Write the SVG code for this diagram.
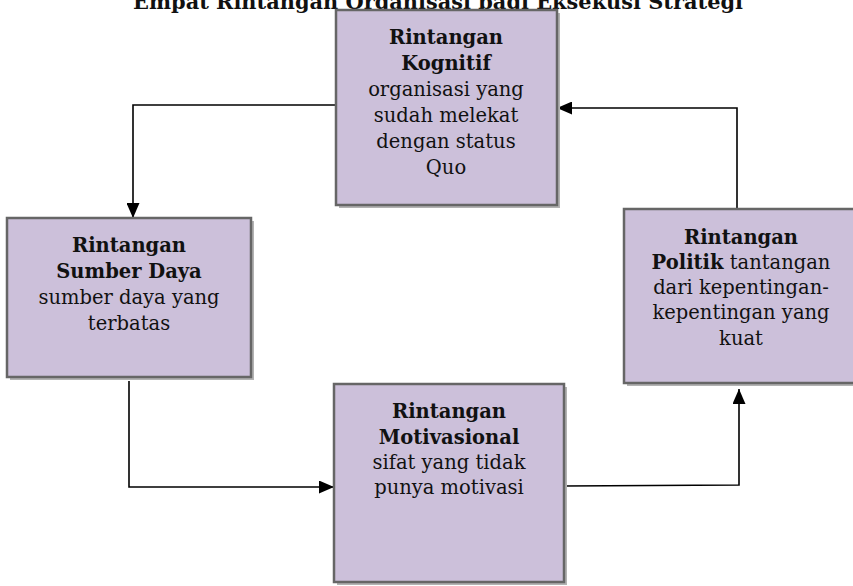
<svg xmlns="http://www.w3.org/2000/svg" width="853" height="586" viewBox="0 0 853 586">
<style>
.shadow{fill:#b3b3b3}
.box{fill:#ccc0da;stroke:#666666;stroke-width:2.5}
.t{font-family:"DejaVu Serif","Liberation Serif",serif;font-size:19.5px;fill:#111;text-anchor:middle}
.b{font-weight:bold}
.title{font-family:"DejaVu Serif","Liberation Serif",serif;font-size:20px;font-weight:bold;fill:#111;text-anchor:middle}
.conn{fill:none;stroke:#000;stroke-width:1.6}
</style>
<defs>
<marker id="arr" viewBox="0 0 15 13" refX="15" refY="6.5" markerWidth="15" markerHeight="13" markerUnits="userSpaceOnUse" orient="auto">
<path d="M0,0 L15,6.5 L0,13 Z" fill="#000"/>
</marker>
</defs>
<rect width="853" height="586" fill="#fff"/>
<text class="title" x="438" y="9" textLength="610" lengthAdjust="spacingAndGlyphs">Empat Rintangan Organisasi bagi Eksekusi Strategi</text>
<g id="connectors">
<polyline class="conn" points="336,105 133,105 133,218" marker-end="url(#arr)"/>
<polyline class="conn" points="129,381 129,487 334,487" marker-end="url(#arr)"/>
<polyline class="conn" points="564,486 739,485 739,389" marker-end="url(#arr)"/>
<polyline class="conn" points="737,209 737,108 557,108" marker-end="url(#arr)"/>
</g>
<g id="kognitif">
<rect class="shadow" x="339" y="13" width="221" height="195"/>
<rect class="box" x="336" y="10" width="221" height="195"/>
<text class="t b" x="446" y="44">Rintangan</text>
<text class="t b" x="446" y="70">Kognitif</text>
<text class="t" x="446" y="96">organisasi yang</text>
<text class="t" x="446" y="122">sudah melekat</text>
<text class="t" x="446" y="148">dengan status</text>
<text class="t" x="446" y="174">Quo</text>
</g>
<g id="sumber">
<rect class="shadow" x="10" y="221" width="244" height="159"/>
<rect class="box" x="7" y="218" width="244" height="159"/>
<text class="t b" x="129" y="252">Rintangan</text>
<text class="t b" x="129" y="278">Sumber Daya</text>
<text class="t" x="129" y="304">sumber daya yang</text>
<text class="t" x="129" y="330">terbatas</text>
</g>
<g id="politik">
<rect class="shadow" x="627" y="212" width="240" height="174"/>
<rect class="box" x="624" y="209" width="240" height="174"/>
<text class="t b" x="741" y="244">Rintangan</text>
<text class="t" x="741" y="269"><tspan class="b">Politik</tspan> tantangan</text>
<text class="t" x="741" y="294">dari kepentingan-</text>
<text class="t" x="741" y="319">kepentingan yang</text>
<text class="t" x="741" y="345">kuat</text>
</g>
<g id="motivasional">
<rect class="shadow" x="337" y="387" width="230" height="198"/>
<rect class="box" x="334" y="384" width="230" height="198"/>
<text class="t b" x="449" y="418">Rintangan</text>
<text class="t b" x="449" y="444">Motivasional</text>
<text class="t" x="449" y="469">sifat yang tidak</text>
<text class="t" x="449" y="494">punya motivasi</text>
</g>
</svg>
